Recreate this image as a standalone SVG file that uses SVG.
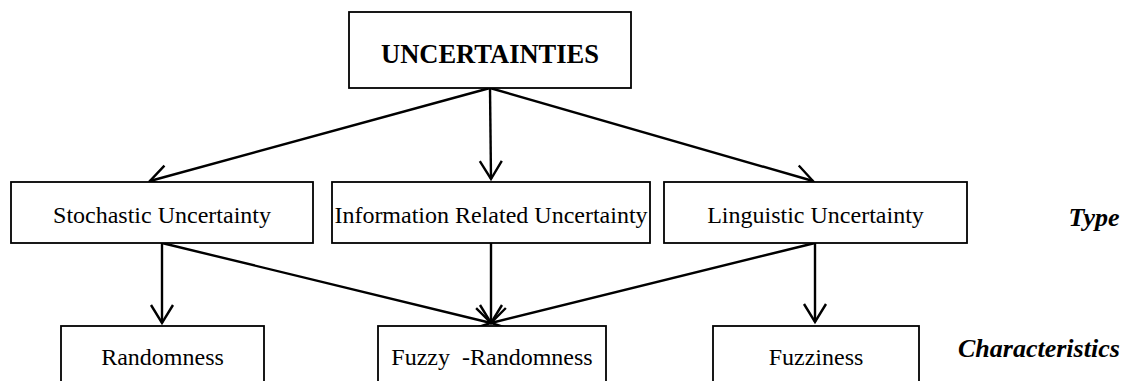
<svg xmlns="http://www.w3.org/2000/svg" width="1127" height="381" viewBox="0 0 1127 381">
  <style>
    .box { fill: #fff; stroke: #000; stroke-width: 1.8; }
    .lbl { font-family: "Liberation Serif", "Times New Roman", serif; font-size: 24px; fill: #000; text-anchor: middle; white-space: pre; }
    .title { font-weight: bold; font-size: 26.5px; }
    .side { font-family: "Liberation Serif", "Times New Roman", serif; font-size: 26px; font-weight: bold; font-style: italic; fill: #000; }
    .edge { fill: none; stroke: #000; stroke-width: 2.4; marker-end: url(#open); }
  </style>
  <defs>
    <marker id="open" markerUnits="userSpaceOnUse" markerWidth="24" markerHeight="24" viewBox="-20 -12 24 24" refX="0" refY="0" orient="auto" overflow="visible">
      <path d="M-18,-11 L0,0 L-18,11" fill="none" stroke="#000" stroke-width="2.4"/>
    </marker>
  </defs>

  <rect width="1127" height="381" fill="#fff"/>

  <!-- connectors -->
  <g id="connectors">
    <line class="edge" x1="490" y1="88" x2="150" y2="181"/>
    <line class="edge" x1="490" y1="88" x2="491" y2="179"/>
    <line class="edge" x1="490" y1="88" x2="813" y2="181"/>
    <line class="edge" x1="162" y1="243" x2="162" y2="323"/>
    <line class="edge" x1="162" y1="243" x2="491" y2="323"/>
    <line class="edge" x1="491" y1="243" x2="491" y2="323"/>
    <line class="edge" x1="815" y1="243" x2="491" y2="323"/>
    <line class="edge" x1="815" y1="243" x2="815" y2="322"/>
  </g>

  <!-- root -->
  <g id="uncertainties">
    <rect class="box" x="349" y="12" width="282" height="76"/>
    <text class="lbl title" x="490" y="63">UNCERTAINTIES</text>
  </g>

  <!-- types -->
  <g id="stochastic">
    <rect class="box" x="11" y="182" width="302" height="61"/>
    <text class="lbl" x="162" y="223">Stochastic Uncertainty</text>
  </g>
  <g id="information">
    <rect class="box" x="332" y="182" width="318" height="61"/>
    <text class="lbl" x="491" y="223">Information Related Uncertainty</text>
  </g>
  <g id="linguistic">
    <rect class="box" x="664" y="182" width="303" height="61"/>
    <text class="lbl" x="815.5" y="223">Linguistic Uncertainty</text>
  </g>

  <!-- characteristics -->
  <g id="randomness">
    <rect class="box" x="61" y="326" width="203" height="80"/>
    <text class="lbl" x="162.5" y="365">Randomness</text>
  </g>
  <g id="fuzzy-randomness">
    <rect class="box" x="378" y="326" width="228" height="80"/>
    <text class="lbl" x="492" y="365" xml:space="preserve">Fuzzy  -Randomness</text>
  </g>
  <g id="fuzziness">
    <rect class="box" x="713" y="326" width="206" height="80"/>
    <text class="lbl" x="816" y="365">Fuzziness</text>
  </g>

  <!-- row captions -->
  <g id="type-caption">
    <text class="side" x="1094" y="226" text-anchor="middle">Type</text>
  </g>
  <g id="characteristics-caption">
    <text class="side" x="958" y="357">Characteristics</text>
  </g>
</svg>
